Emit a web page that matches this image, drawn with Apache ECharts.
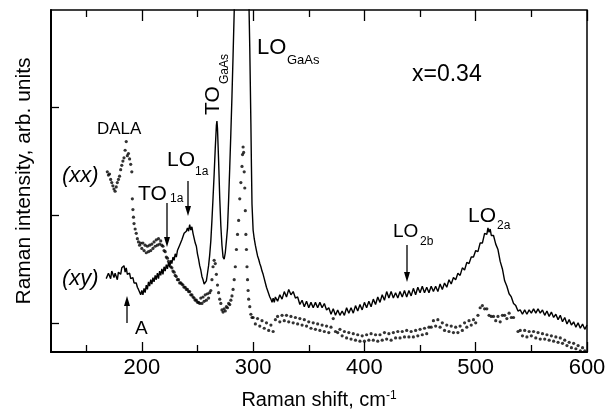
<!DOCTYPE html>
<html>
<head>
<meta charset="utf-8">
<script src="https://cdn.jsdelivr.net/npm/echarts@6/dist/echarts.min.js"></script>
<style>
html, body { margin: 0; padding: 0; background: #fff; }
#chart { width: 614px; height: 416px; }
</style>
</head>
<body>
<div id="chart"></div>
<script>
var FONT = '"Liberation Sans", Arial, Helvetica, sans-serif';

// tick positions, Raman shift in cm-1
var xMajor = [200, 300, 400, 500, 600];
var xMinor = [150, 250, 350, 450, 550];
// intensity ticks (arb. units, no labels)
var yTicks = [1, 2, 3];

// (xy) polarisation, solid line : [shift, intensity]
var specXY = [
    [168,1.41],[170,1.46],[172,1.41],[173,1.48],[175,1.42],[176,1.46],[178,1.40],[179,1.47],[181,1.45],[182,1.51],
    [184,1.53],[185,1.47],[186,1.51],[187,1.45],[189,1.46],[190,1.41],[192,1.42],[193,1.37],[195,1.37],[196,1.33],
    [197,1.31],[198,1.32],[199,1.26],[200,1.30],[201,1.26],[202,1.32],[203,1.28],[204,1.35],[205,1.31],[206,1.38],
    [207,1.34],[208,1.40],[209,1.36],[210,1.42],[211,1.38],[212,1.44],[213,1.40],[214,1.46],[215,1.41],[216,1.48],
    [217,1.44],[218,1.50],[219,1.45],[220,1.52],[221,1.48],[222,1.54],[223,1.50],[224,1.56],[225,1.52],[226,1.58],
    [227,1.55],[228,1.61],[229,1.58],[230,1.64],[231,1.61],[232,1.67],[233,1.67],[234,1.72],[235,1.72],[236,1.77],
    [237,1.78],[238,1.83],[239,1.84],[240,1.85],[241,1.88],[242,1.85],[243,1.91],[244,1.86],[245,1.89],[246,1.83],
    [247,1.82],[248,1.74],[249,1.71],[250,1.64],[251,1.59],[252,1.53],[253,1.49],[254,1.43],[255,1.40],[256,1.36],
    [257,1.35],[258,1.39],[259,1.46],[260,1.53],[261,1.63],[262,1.76],[263,1.95],[264,2.16],[265,2.38],[266,2.62],
    [267,2.83],[267.5,2.87],[268,2.80],[269,2.50],[270,2.16],[271,1.90],[272,1.72],[273,1.61],[274,1.59],[275,1.65],
    [276,1.76],[277,1.88],[278,2.14],[279,2.44],[280,2.76],[281,3.10],[282,3.48],[283,3.88],[284,4.30],[286,5.10],
    [288,5.80],[290,6.20],[292,6.10],[294,5.40],[295,4.80],[296,4.10],[297,3.55],[298,2.85],[298.5,2.45],[299,2.10],
    [300,1.86],[301,1.78],[302,1.72],[303,1.67],[304,1.62],[305,1.59],[306,1.55],[307,1.52],[308,1.48],[309,1.45],
    [310,1.41],[311,1.37],[312,1.33],[313,1.30],[314,1.27],[315,1.24],[316,1.22],[317,1.19],[318,1.23],[319,1.19],
    [320,1.24],[322,1.20],[324,1.26],[326,1.22],[328,1.29],[330,1.24],[332,1.31],[334,1.26],[336,1.29],[338,1.23],
    [340,1.24],[342,1.17],[344,1.21],[346,1.15],[348,1.20],[350,1.14],[352,1.19],[354,1.14],[356,1.19],[358,1.14],
    [360,1.19],[362,1.14],[364,1.18],[366,1.12],[368,1.14],[370,1.08],[372,1.13],[374,1.07],[376,1.12],[378,1.07],
    [380,1.11],[382,1.07],[384,1.14],[386,1.09],[388,1.14],[390,1.09],[392,1.16],[394,1.11],[396,1.17],[398,1.12],
    [400,1.19],[402,1.14],[404,1.20],[406,1.15],[408,1.22],[410,1.17],[412,1.24],[414,1.19],[416,1.26],[418,1.21],
    [420,1.29],[422,1.23],[424,1.29],[426,1.23],[428,1.28],[430,1.23],[432,1.29],[434,1.24],[436,1.30],[438,1.24],
    [440,1.30],[442,1.25],[444,1.32],[446,1.26],[448,1.33],[450,1.28],[452,1.34],[454,1.28],[456,1.33],[458,1.28],
    [460,1.34],[462,1.29],[464,1.34],[466,1.29],[468,1.36],[470,1.31],[472,1.37],[474,1.33],[476,1.40],[478,1.36],
    [480,1.42],[482,1.40],[484,1.46],[486,1.44],[488,1.51],[490,1.49],[492,1.56],[494,1.55],[496,1.61],[498,1.61],
    [500,1.67],[502,1.66],[504,1.74],[506,1.74],[508,1.83],[509,1.84],[510,1.82],[511,1.88],[512,1.84],[513,1.87],
    [514,1.81],[516,1.81],[518,1.73],[520,1.68],[522,1.57],[524,1.50],[526,1.39],[528,1.34],[530,1.27],[532,1.24],
    [534,1.18],[536,1.16],[538,1.11],[540,1.12],[542,1.08],[544,1.12],[546,1.08],[548,1.12],[550,1.09],[552,1.13],
    [554,1.09],[556,1.13],[558,1.09],[560,1.12],[562,1.07],[564,1.11],[566,1.06],[568,1.10],[570,1.05],[572,1.08],
    [574,1.03],[576,1.07],[578,1.01],[580,1.05],[582,0.99],[584,1.03],[586,0.98],[588,1.01],[590,0.96],[592,1.00],
    [594,0.95],[596,0.99],[598,0.94],[600,0.98]
];

// (xx) polarisation, dotted : [shift, intensity]
var specXX = [
    [169,2.40],[170,2.37],[171,2.38],[172,2.33],[173,2.30],[174,2.27],[175,2.24],[176,2.22],[177,2.26],[178,2.30],
    [179,2.33],[180,2.36],[181,2.42],[182,2.46],[183,2.50],[184,2.53],[185,2.60],[186,2.68],[187,2.55],[188,2.57],
    [189,2.52],[190,2.47],[191,2.40],[191.5,2.15],[192,2.05],[192.5,1.98],[193,1.92],[194,1.87],[195,1.83],[196,1.78],
    [197,1.75],[198,1.72],[199,1.74],[200,1.69],[201,1.74],[202,1.67],[203,1.72],[204,1.65],[205,1.71],[206,1.66],
    [207,1.72],[208,1.67],[209,1.73],[210,1.69],[211,1.75],[212,1.71],[213,1.77],[214,1.72],[215,1.78],[216,1.73],
    [217,1.76],[218,1.72],[219,1.71],[220,1.67],[221,1.66],[222,1.61],[223,1.60],[224,1.57],[225,1.55],[226,1.52],
    [227,1.51],[228,1.48],[229,1.47],[230,1.44],[231,1.43],[232,1.40],[233,1.40],[234,1.37],[235,1.37],[236,1.36],
    [237,1.35],[238,1.33],[239,1.33],[240,1.31],[241,1.31],[242,1.29],[243,1.29],[244,1.26],[245,1.26],[246,1.24],
    [247,1.23],[248,1.21],[249,1.21],[250,1.19],[251,1.19],[252,1.18],[253,1.23],[254,1.18],[255,1.24],[256,1.20],
    [257,1.26],[258,1.21],[259,1.27],[260,1.23],[261,1.28],[262,1.30],[263,1.40],[264,1.52],[265,1.58],[266,1.55],
    [267,1.45],[268,1.35],[269,1.28],[270,1.22],[271,1.18],[272,1.12],[273,1.10],[274,1.13],[275,1.11],[276,1.15],
    [277,1.14],[278,1.18],[279,1.17],[280,1.21],[281,1.25],[282,1.31],[283,1.40],[284,1.52],[285,1.68],[286,1.82],
    [287,1.95],[288,2.15],[289,2.30],[290,2.45],[290.5,2.56],[291,2.63],[291.5,2.58],[292,2.40],[292.5,2.25],[293,2.04],
    [293.5,1.82],[294,1.68],[294.5,1.52],[295,1.40],[295.5,1.30],[296,1.22],[297,1.15],[298,1.08],[299,1.05],[300,1.05],
    [302,0.99],[304,1.04],[306,0.97],[308,1.02],[310,0.95],[312,1.00],[314,0.93],[316,0.98],[318,0.92],[320,1.03],
    [322,1.06],[324,1.01],[326,1.07],[328,1.02],[330,1.07],[332,1.01],[334,1.06],[336,1.00],[338,1.05],[340,0.99],
    [342,1.04],[344,0.98],[346,1.03],[348,0.97],[350,1.01],[352,0.95],[354,1.00],[356,0.94],[358,0.99],[360,0.93],
    [362,0.98],[364,0.92],[366,0.97],[368,0.91],[370,0.96],[372,1.04],[374,0.92],[376,0.91],[378,0.94],[380,0.88],
    [382,0.92],[384,0.86],[386,0.91],[388,0.85],[390,0.90],[392,0.84],[394,0.89],[396,0.83],[398,0.88],[400,0.83],
    [402,0.89],[404,0.84],[406,0.90],[408,0.84],[410,0.89],[412,0.83],[414,0.89],[416,0.84],[418,0.91],[420,0.85],
    [422,0.90],[424,0.84],[426,0.91],[428,0.86],[430,0.92],[432,0.86],[434,0.92],[436,0.87],[438,0.93],[440,0.87],
    [442,0.92],[444,0.87],[446,0.93],[448,0.88],[450,0.94],[452,0.89],[454,0.95],[456,0.90],[458,0.96],[460,0.96],
    [462,1.02],[464,0.97],[466,1.03],[468,0.96],[470,1.00],[472,0.93],[474,0.98],[476,0.92],[478,0.97],[480,0.91],
    [482,0.96],[484,0.91],[486,0.97],[488,0.93],[490,1.00],[492,0.96],[494,1.02],[496,0.98],[498,1.03],[500,1.00],
    [502,1.07],[504,1.14],[506,1.16],[508,1.13],[510,1.13],[512,1.07],[514,1.06],[516,1.06],[518,1.02],[520,1.06],
    [522,1.01],[524,1.07],[526,1.07],[528,1.04],[530,1.09],[532,1.05],[534,1.05],
    [538,0.92],[540,0.93],[542,0.88],[544,0.93],[546,0.87],[548,0.92],[550,0.88],[552,0.92],[554,0.86],[556,0.91],
    [558,0.85],[560,0.90],[562,0.85],[564,0.89],[566,0.84],[568,0.88],[570,0.83],[572,0.87],[574,0.82],[576,0.86],
    [578,0.81],[580,0.84],[582,0.79],[584,0.82],[586,0.77],[588,0.81],[590,0.76],[592,0.79],[594,0.74],[596,0.77],
    [598,0.74]
];

var chart = echarts.init(document.getElementById('chart'));

function tickAxis(pos, values, len) {
    return {
        type: 'value',
        position: pos,
        min: 118.4,
        max: 600,
        axisLine: { show: false },
        splitLine: { show: false },
        axisTick: { show: true, inside: true, length: len, customValues: values,
            lineStyle: { color: '#000', width: 1.3 } },
        axisLabel: { show: false }
    };
}

// plain text annotation
function label(x, y, s, size, extra) {
    var st = { text: s, fill: '#000', fontFamily: FONT, fontSize: size,
        align: 'left', verticalAlign: 'middle' };
    for (var k in extra) st[k] = extra[k];
    return { type: 'text', x: x, y: y, style: st, z: 10 };
}

// vertical arrow from y0 to the tip at y1
function arrow(x, y0, y1) {
    var dir = y1 > y0 ? 1 : -1;
    return [
        { type: 'line', shape: { x1: x, y1: y0, x2: x, y2: y1 - dir * 6 },
          style: { stroke: '#000', lineWidth: 1.3 }, z: 10 },
        { type: 'polygon', shape: { points: [[x, y1], [x - 3, y1 - dir * 10], [x + 3, y1 - dir * 10]] },
          style: { fill: '#000' }, z: 10 }
    ];
}

var annot = [
    label(412, 75, 'x=0.34', 23),
    label(97, 129, 'DALA', 17),
    label(62, 176, '(xx)', 22, { fontStyle: 'italic' }),
    label(62, 279, '(xy)', 22, { fontStyle: 'italic' }),
    label(135, 329, 'A', 19),
    label(257, 48, 'LO', 22),
    label(287, 60, 'GaAs', 13),
    label(167, 160, 'LO', 21),
    label(195, 172, '1a', 12),
    label(138, 194, 'TO', 21),
    label(170, 199, '1a', 12),
    label(393, 232, 'LO', 19),
    label(420, 242, '2b', 12),
    label(468, 216, 'LO', 21),
    label(497, 226, '2a', 12),
    {
        type: 'group', x: 221, y: 115, rotation: Math.PI / 2, z: 10,
        children: [
            { type: 'text', x: 0, y: -7.5, style: { text: 'TO', fill: '#000', fontFamily: FONT,
                fontSize: 21, align: 'left', verticalAlign: 'middle' } },
            { type: 'text', x: 31, y: 4, style: { text: 'GaAs', fill: '#000', fontFamily: FONT,
                fontSize: 12, align: 'left', verticalAlign: 'middle' } }
        ]
    }
].concat(arrow(127, 323, 296), arrow(167, 203, 247), arrow(188, 181, 216), arrow(407, 245, 282));

var option = {
    animation: false,
    grid: { left: 51, right: 27, top: 10, bottom: 64, show: true,
        borderColor: '#000', borderWidth: 1.5, backgroundColor: 'transparent' },
    xAxis: [
        {
            type: 'value',
            position: 'bottom',
            min: 118.4,
            max: 600,
            name: '{a|Raman shift, cm}{b|-1}',
            nameLocation: 'middle',
            nameGap: 38,
            nameTextStyle: {
                rich: {
                    a: { fontSize: 20, fontFamily: FONT, color: '#000' },
                    b: { fontSize: 12, fontFamily: FONT, color: '#000', verticalAlign: 'top' }
                }
            },
            axisLine: { show: true, lineStyle: { color: '#000', width: 2 } },
            splitLine: { show: false },
            axisTick: { show: true, inside: true, length: 10, customValues: xMajor,
                lineStyle: { color: '#000', width: 1.3 } },
            axisLabel: { show: true, customValues: xMajor, fontSize: 22, fontFamily: FONT,
                color: '#000', margin: 5 }
        },
        tickAxis('bottom', xMinor, 7),
        tickAxis('top', xMajor, 11),
        tickAxis('top', xMinor, 7)
    ],
    yAxis: {
        type: 'value',
        min: 0.73,
        max: 3.9,
        name: 'Raman intensity, arb. units',
        nameLocation: 'middle',
        nameGap: 16,
        nameRotate: 90,
        nameTextStyle: { fontSize: 21, fontFamily: FONT, color: '#000' },
        axisLine: { show: true, lineStyle: { color: '#000', width: 2 } },
        splitLine: { show: false },
        axisTick: { show: true, inside: true, length: 8, customValues: yTicks,
            lineStyle: { color: '#000', width: 1.3 } },
        axisLabel: { show: false }
    },
    series: [
        {
            name: '(xy)',
            type: 'line',
            data: specXY,
            showSymbol: false,
            clip: true,
            lineStyle: { color: '#000', width: 1.4 }
        },
        {
            name: '(xx)',
            type: 'scatter',
            data: specXX,
            symbolSize: 3.2,
            clip: true,
            itemStyle: { color: '#000' }
        }
    ],
    graphic: annot
};

chart.setOption(option);
</script>
</body>
</html>
